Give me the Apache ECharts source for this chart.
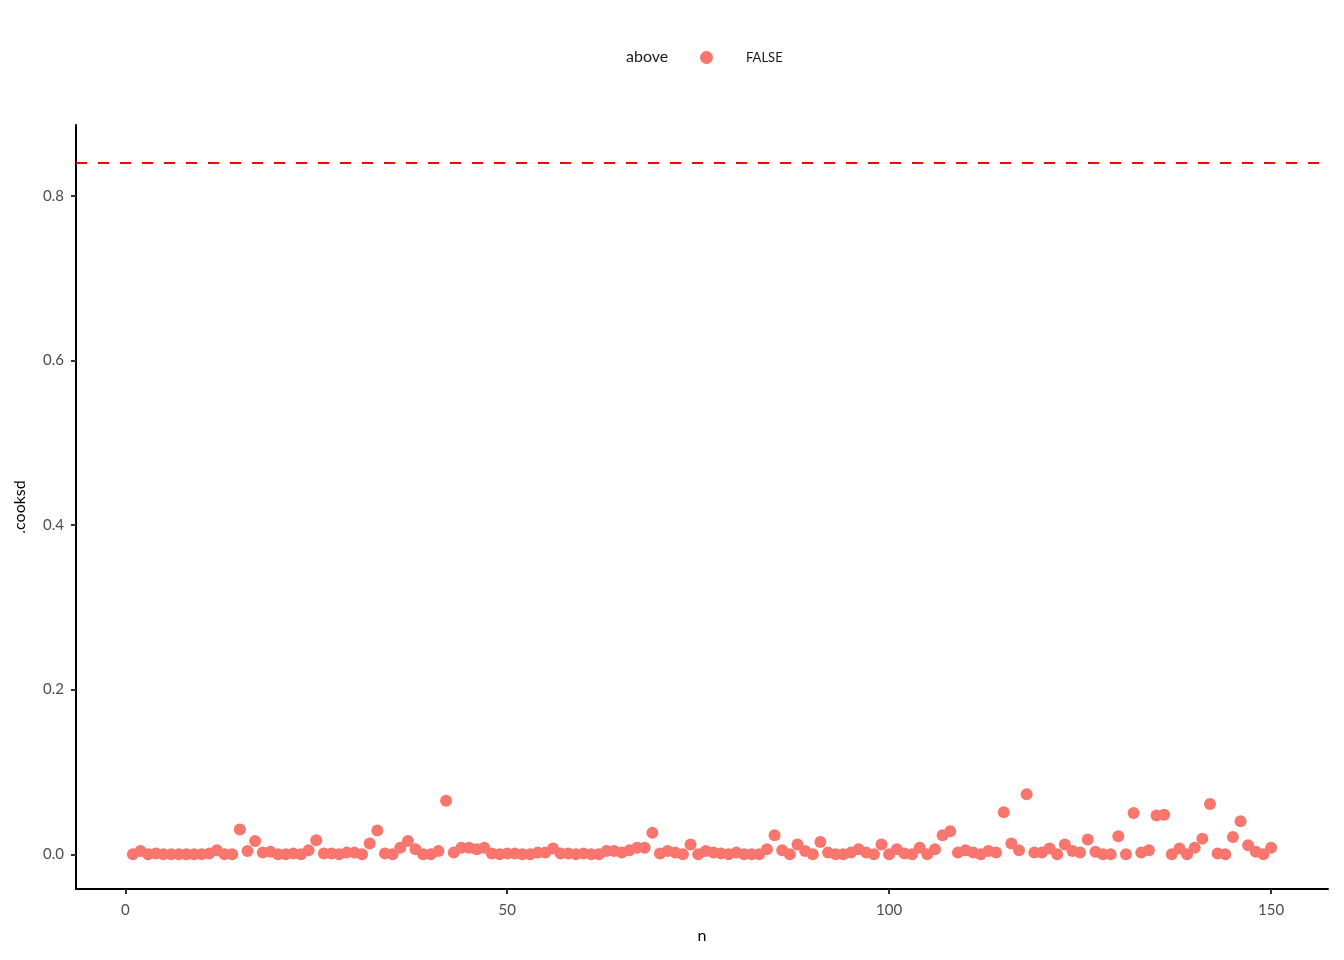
<!DOCTYPE html>
<html>
<head>
<meta charset="utf-8">
<script src="https://cdn.jsdelivr.net/npm/echarts@6/dist/echarts.min.js"></script>
<style>html,body{margin:0;padding:0;background:#fff}#c{width:1344px;height:960px}</style>
</head>
<body>
<div id="c"></div>
<script>
const cooksd = [
0.000,0.004,0.000,0.001,0.000,0.000,0.000,0.000,0.000,0.000,
0.001,0.005,0.000,0.000,0.030,0.004,0.016,0.002,0.003,0.000,
0.000,0.001,0.000,0.005,0.017,0.001,0.001,0.000,0.002,0.002,
0.000,0.013,0.029,0.001,0.000,0.008,0.016,0.006,0.000,0.000,
0.004,0.065,0.002,0.008,0.008,0.006,0.008,0.001,0.000,0.001,
0.001,0.000,0.000,0.002,0.002,0.007,0.001,0.001,0.000,0.001,
0.000,0.000,0.004,0.004,0.002,0.005,0.008,0.008,0.026,0.001,
0.004,0.002,0.000,0.012,0.000,0.004,0.002,0.001,0.000,0.002,
0.000,0.000,0.000,0.006,0.023,0.005,0.000,0.012,0.004,0.000,
0.015,0.002,0.000,0.000,0.002,0.006,0.002,0.000,0.012,0.000,
0.006,0.001,0.000,0.008,0.000,0.006,0.023,0.028,0.002,0.005,
0.002,0.000,0.004,0.002,0.051,0.013,0.005,0.073,0.002,0.002,
0.007,0.000,0.012,0.004,0.002,0.018,0.003,0.000,0.000,0.022,
0.000,0.050,0.002,0.005,0.047,0.048,0.000,0.007,0.000,0.008,
0.019,0.061,0.001,0.000,0.021,0.040,0.011,0.003,0.000,0.008
];
const n = cooksd.map((_, i) => i + 1);
const threshold = 0.8437;
const xTicks = [0, 50, 100, 150];
const yTicks = [0, 0.2, 0.4, 0.6, 0.8];
const groupName = 'FALSE';
const legendTitle = 'above';

const FONT = 'Lato';
const chart = echarts.init(document.getElementById('c'));
chart.setOption({
  animation: false,
  backgroundColor: '#ffffff',
  title: {
    text: legendTitle, left: 621, top: 44,
    textStyle: {fontFamily: FONT, fontSize: 16, fontWeight: 'normal', color: '#1a1a1a'}
  },
  legend: {
    data: [{name: groupName, icon: 'circle'}],
    left: 695, top: 46, itemWidth: 13, itemHeight: 13,
    textStyle: {fontFamily: FONT, fontSize: 13, color: '#1a1a1a', padding: [0, 0, 0, 28]}
  },
  grid: {left: 76, right: 16, top: 125, bottom: 71, containLabel: false},
  xAxis: {
    type: 'value', min: -6.45, max: 157.45,
    name: 'n', nameLocation: 'middle', nameGap: 39,
    nameTextStyle: {fontFamily: FONT, fontSize: 16, color: '#000'},
    splitLine: {show: false},
    axisLine: {onZero: false, lineStyle: {color: '#000', width: 2}},
    axisTick: {customValues: xTicks, length: 5, lineStyle: {color: '#333', width: 2}},
    axisLabel: {customValues: xTicks, fontFamily: FONT, fontSize: 15, color: '#4d4d4d', margin: 14}
  },
  yAxis: {
    type: 'value', min: -0.04219, max: 0.88594,
    name: '.cooksd', nameLocation: 'middle', nameGap: 48, nameRotate: 90,
    nameTextStyle: {fontFamily: FONT, fontSize: 16, color: '#000'},
    splitLine: {show: false},
    axisLine: {onZero: false, lineStyle: {color: '#000', width: 2}},
    axisTick: {customValues: yTicks, length: 5, lineStyle: {color: '#333', width: 2}},
    axisLabel: {customValues: yTicks, fontFamily: FONT, fontSize: 15, color: '#4d4d4d', margin: 12,
      formatter: v => v.toFixed(1)}
  },
  series: [{
    name: groupName, type: 'scatter', symbol: 'circle', symbolSize: 12,
    itemStyle: {color: '#F8766D', opacity: 1},
    data: n.map((x, i) => [x, cooksd[i]]),
    markLine: {
      silent: true, symbol: 'none', label: {show: false},
      lineStyle: {color: '#FF0000', width: 2, type: [11, 11]},
      data: [{yAxis: threshold}]
    }
  }]
});
</script>
</body>
</html>
